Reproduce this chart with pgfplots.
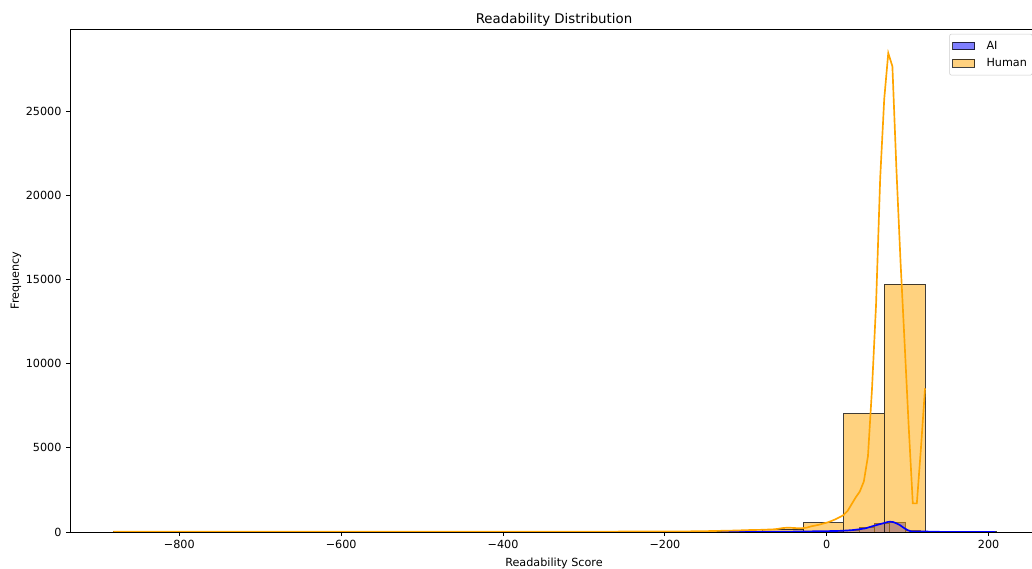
\documentclass[border=0pt]{standalone}
\usepackage{fontspec}
\setmainfont{DejaVu Sans}
\usepackage{pgfplots}
\pgfplotsset{compat=1.18}
\definecolor{mplorange}{RGB}{255,165,0}
\definecolor{mplblue}{RGB}{0,0,255}
\pgfplotsset{mylegend/.style={legend image code/.code={\draw[##1, line width=0.75pt, sharp corners] (0pt,-2.9pt) rectangle (16.5pt,2.9pt); \path (23pt,0pt);}}}
\begin{document}
\begin{tikzpicture}
\begin{axis}[
  scale only axis, width=726pt, height=377.25pt,
  xmin=-935, xmax=261, ymin=0, ymax=29870,
  tick align=outside, tick pos=left, major tick length=2.9pt,
  xtick={-800,-600,-400,-200,0,200},
  xticklabels={−800,−600,−400,−200,0,200},
  ytick={0,5000,10000,15000,20000,25000},
  scaled y ticks=false,
  yticklabel style={/pgf/number format/.cd, fixed, 1000 sep={}, assume math mode=true},
  ticklabel style={font=\fontsize{8.4}{10}\selectfont},
  label style={font=\fontsize{8.4}{10}\selectfont},
  ylabel shift=-3.5pt,
  title style={font=\fontsize{10}{12}\selectfont, yshift=-7.5pt},
  title={Readability Distribution},
  xlabel={Readability Score}, ylabel={Frequency},
  axis line style={line width=0.6pt}, tick style={line width=0.6pt, black},
  legend style={at={(rel axis cs:1,1)}, anchor=north east, xshift=-4.1pt, yshift=-3.6pt,
    draw=black!20, rounded corners=1.5pt, font=\fontsize{8.4}{10}\selectfont,
    inner xsep=2pt, inner ysep=3.2pt, row sep=1.2pt},
  legend cell align=left,
]
\coordinate (bl) at (rel axis cs:0,0);
\coordinate (tr) at (rel axis cs:1,1);
% AI histogram (18 bins)
\addplot[ybar interval, mylegend, fill=mplblue, fill opacity=0.5, draw=black, draw opacity=0.75, line width=0.7pt]
coordinates {
(-130,3) (-111.11,5) (-92.22,8) (-73.33,10) (-54.44,15) (-35.56,20) (-16.67,30) (2.22,45)
(21.11,90) (40.0,280) (58.89,517) (77.78,552) (96.67,110) (115.56,45) (134.44,12)
(153.33,5) (172.22,2) (191.11,2) (210,2)};
\addlegendentry{AI}
% Human histogram (20 bins)
\addplot[ybar interval, mylegend, fill=mplorange, fill opacity=0.5, draw=black, draw opacity=0.75, line width=0.7pt]
coordinates {
(-881.4,2) (-831.26,1) (-781.12,1) (-730.98,1) (-680.84,2) (-630.7,1) (-580.56,1)
(-530.42,1) (-480.28,2) (-430.14,2) (-380.0,3) (-329.86,4) (-279.72,5) (-229.58,10)
(-179.44,20) (-129.3,60) (-79.16,160) (-29.02,545) (21.12,7025) (71.26,14710) (121.4,14710)};
\addlegendentry{Human}
% AI KDE
\addplot[mplblue, line width=1.25pt, forget plot] coordinates {
(-130,4) (-110,8) (-90,12) (-70,15) (-50,20) (-30,30) (-10,45) (5,55) (15,65) (25,90)
(32,115) (40,160) (48,220) (57,350) (65,460) (70,520) (75,590) (78,612) (82,590) (86,517)
(90,420) (93,320) (96,220) (100,110) (104,40) (108,25) (115,35) (122,30) (130,15)
(145,6) (170,3) (208,2)};
% Human KDE
\addplot[mplorange, line width=1.25pt, forget plot] coordinates {
(-881.4,12) (-800,12) (-700,14) (-600,14) (-500,14) (-400,16) (-300,20) (-250,25)
(-200,30) (-170,38) (-150,50) (-140,60) (-130,70) (-120,80) (-110,90) (-100,110)
(-90,120) (-80,130) (-75,140) (-70,150) (-65,160) (-60,190) (-54.9,230) (-49.9,250)
(-44.8,250) (-39.8,235) (-34.8,225) (-29.7,230) (-24.7,260) (-19.7,330) (-14.6,380)
(-9.6,430) (-4.6,500) (0.5,560) (5.5,650) (10.5,750) (15.6,870) (20.6,1000)
(25.7,1250) (30.7,1650) (35.7,2050) (40.8,2400) (45.8,3000) (50.9,4500) (55.9,8500)
(60.9,13500) (66.0,21000) (71.0,25710) (76.0,28440) (81.1,27650) (86.1,21500)
(91.2,16000) (96.2,11200) (101.2,6300) (106.3,1700) (111.3,1700) (116.4,5000) (121.4,8533)};
\end{axis}
\pgfresetboundingbox
\path[use as bounding box] ([xshift=-52.5pt,yshift=-27.75pt]bl) rectangle ([xshift=-4.5pt,yshift=21.75pt]tr);
\end{tikzpicture}
\end{document}
